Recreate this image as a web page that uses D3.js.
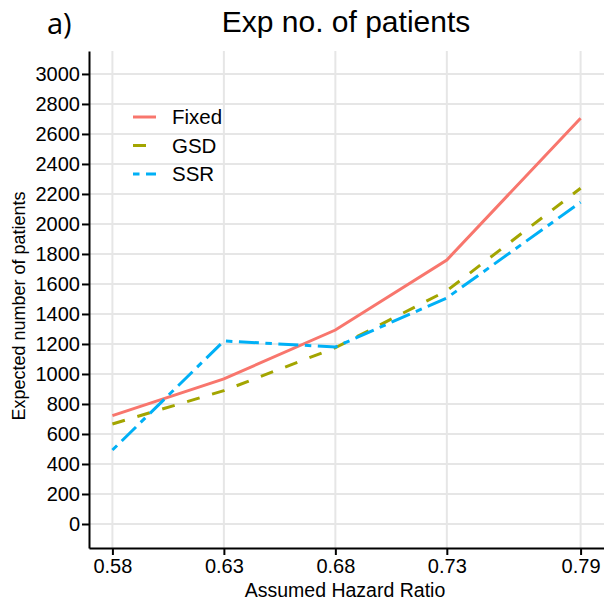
<!DOCTYPE html>
<html>
<head>
<meta charset="utf-8">
<script src="https://cdn.jsdelivr.net/npm/d3@7"></script>
<style>
  body { margin: 0; background: #fff; }
  text { font-family: "Liberation Sans", Arial, sans-serif; }
</style>
</head>
<body>
<svg id="chart" width="604" height="606"></svg>
<script>
// values
var hazardRatios = [0.58, 0.63, 0.68, 0.73, 0.79];
var fixedN = [722, 967, 1293, 1760, 2705];
var gsdN = [667, 889, 1175, 1555, 2238];
var ssrN = [493, 1220, 1180, 1507, 2145];
var yTicks = [0, 200, 400, 600, 800, 1000, 1200, 1400, 1600, 1800, 2000, 2200, 2400, 2600, 2800, 3000];
var seriesNames = ["Fixed", "GSD", "SSR"];

var series = [
  {name: seriesNames[0], values: fixedN, color: "#F8766D", dash: null},
  {name: seriesNames[1], values: gsdN, color: "#A3A500", dash: "13,13"},
  {name: seriesNames[2], values: ssrN, color: "#00B0F6", dash: "6.5,6.5,20,6.5"}
];

var svg = d3.select("#chart"),
    margin = {top: 51, right: 0, bottom: 58, left: 89},
    width = +svg.attr("width") - margin.left - margin.right,
    height = +svg.attr("height") - margin.top - margin.bottom;

var x = d3.scaleLinear().domain([0.5695, 0.8005]).range([0, width]),
    y = d3.scaleLinear().domain([-160, 3153]).range([height, 0]);

var g = svg.append("g")
    .attr("transform", "translate(" + margin.left + "," + margin.top + ")");

// grid
g.append("g").selectAll("line").data(yTicks).enter().append("line")
    .attr("x1", 0).attr("x2", width)
    .attr("y1", function(d) { return y(d); })
    .attr("y2", function(d) { return y(d); })
    .attr("stroke", "#E6E6E6").attr("stroke-width", 2);

g.append("g").selectAll("line").data(hazardRatios).enter().append("line")
    .attr("y1", 0).attr("y2", height)
    .attr("x1", function(d) { return x(d); })
    .attr("x2", function(d) { return x(d); })
    .attr("stroke", "#E6E6E6").attr("stroke-width", 2);

// lines
var line = d3.line()
    .x(function(d, i) { return x(hazardRatios[i]); })
    .y(function(d) { return y(d); });

g.selectAll(".series").data(series).enter().append("path")
    .attr("class", "series")
    .attr("d", function(d) { return line(d.values); })
    .attr("fill", "none")
    .attr("stroke", function(d) { return d.color; })
    .attr("stroke-width", 3)
    .attr("stroke-dasharray", function(d) { return d.dash; });

// axes
var xAxis = g.append("g")
    .attr("transform", "translate(0," + height + ")")
    .call(d3.axisBottom(x).tickValues(hazardRatios).tickSize(7).tickSizeOuter(0)
      .tickFormat(d3.format(".2f")));

var yAxis = g.append("g")
    .call(d3.axisLeft(y).tickValues(yTicks).tickSize(7).tickSizeOuter(0)
      .tickFormat(d3.format("d")));

[xAxis, yAxis].forEach(function(a) {
  a.select(".domain").attr("stroke", "#000").attr("stroke-width", 2);
  a.selectAll(".tick line").attr("stroke", "#000").attr("stroke-width", 2);
  a.selectAll(".tick text").attr("fill", "#000").style("font-size", "20px")
    .style("font-family", "Liberation Sans, Arial, sans-serif");
});
xAxis.selectAll(".tick text").attr("dy", null).attr("y", 25);
yAxis.selectAll(".tick text").attr("x", -9);

// legend
var legend = g.append("g").attr("transform", "translate(44,66)");
var item = legend.selectAll("g").data(series).enter().append("g")
    .attr("transform", function(d, i) { return "translate(0," + (i * 28.5) + ")"; });
item.append("line")
    .attr("x1", 0).attr("x2", 23)
    .attr("stroke", function(d) { return d.color; })
    .attr("stroke-width", 3)
    .attr("stroke-dasharray", function(d) { return d.dash; });
item.append("text")
    .attr("x", 39).attr("dy", "0.35em")
    .style("font-size", "20.5px")
    .text(function(d) { return d.name; });

// titles
svg.append("text")
    .attr("x", 346).attr("y", 32)
    .attr("text-anchor", "middle")
    .style("font-size", "30px")
    .text("Exp no. of patients");

svg.append("text")
    .attr("x", 47).attr("y", 34)
    .style("font-size", "29px")
    .style("font-family", "Open Sans, sans-serif")
    .text("a)");

svg.append("text")
    .attr("x", 345).attr("y", 597)
    .attr("text-anchor", "middle")
    .style("font-size", "19.5px")
    .text("Assumed Hazard Ratio");

svg.append("text")
    .attr("transform", "translate(25,306) rotate(-90)")
    .attr("text-anchor", "middle")
    .style("font-size", "18px")
    .text("Expected number of patients");
</script>
</body>
</html>
